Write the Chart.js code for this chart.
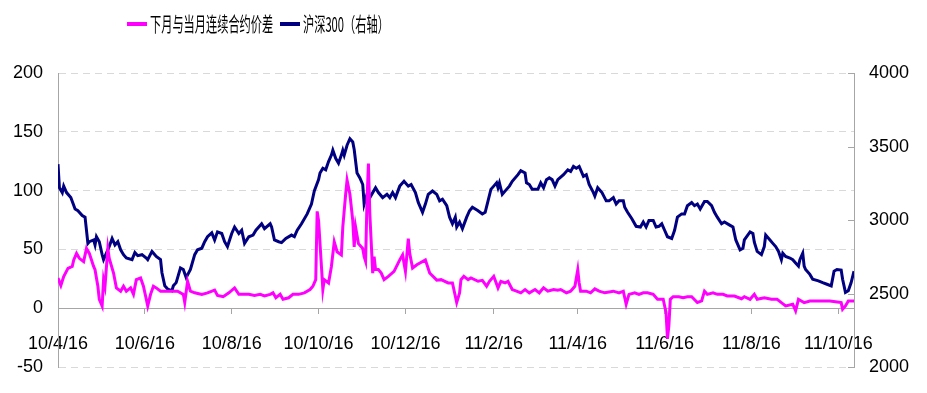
<!DOCTYPE html>
<html>
<head>
<meta charset="utf-8">
<script src="https://cdn.jsdelivr.net/npm/chart.js@4.4.1/dist/chart.umd.min.js"></script>
<style>
  html, body { margin: 0; padding: 0; background: #fff; }
  #wrap { position: relative; width: 927px; height: 393px; }
  .sw { position: absolute; height: 4px; width: 20px; top: 22px; }
  .lt { position: absolute; top: 10px; font: 20px "Noto Sans CJK SC", sans-serif; color: #000;
        white-space: nowrap; transform: scaleX(0.56); transform-origin: left center; line-height: 28px; }
</style>
</head>
<body>
<div id="wrap">
  <canvas id="chart"></canvas>
  <div class="sw" style="left:127px;background:#ff00ff"></div>
  <div class="lt" id="lab0" style="left:150px"></div>
  <div class="sw" style="left:280px;background:#000080"></div>
  <div class="lt" id="lab1" style="left:303px"></div>
</div>
<script>
// labels
const seriesNames = ['下月与当月连续合约价差', '沪深300（右轴）'];
// x ticks: days since 2010-04-16
const tickDays = [0, 61, 122, 183, 244, 306, 365, 426, 487, 548];
const tickLabels = ['10/4/16', '10/6/16', '10/8/16', '10/10/16', '10/12/16', '11/2/16', '11/4/16', '11/6/16', '11/8/16', '11/10/16'];

// 下月与当月连续合约价差 (left axis)
const spreadDays = [0,2,4,7,10,11,13,15,18,20,22,25,26,28,29,31,32,33,35,36,39,41,44,46,48,51,53,55,58,60,62,63,65,67,69,72,75,80,84,88,89,91,93,96,101,105,110,112,116,120,124,127,130,134,138,142,145,149,151,153,156,158,162,165,169,173,177,179,181,182,183,185,186,187,190,192,194,196,199,200,202,203,205,207,208,209,211,214,215,216,217,218,219,220,221,222,223,225,227,229,232,236,240,242,244,246,247,249,252,258,261,266,269,274,277,280,282,283,285,288,290,295,298,301,303,306,309,311,314,316,319,322,325,328,331,335,338,341,344,348,351,353,357,360,363,365,366,367,371,374,377,380,384,390,394,397,399,401,405,408,411,414,418,421,422,425,427,428,429,430,432,436,439,442,445,449,452,454,456,460,463,467,470,475,480,482,486,489,491,496,501,505,508,511,516,518,520,522,524,528,532,537,542,546,550,551,553,555,559];
const spreadValues = [25.8,19.4,27,34,35.6,41,46.7,42.5,39.7,50.9,46.7,35.6,32.8,18.8,7.7,2,24.4,18.8,50.9,42.5,30,17.4,14.6,18.8,14.6,17.4,11.9,24.4,25.8,18.8,7.7,2,11.9,18.8,17.4,14.6,14.6,14.6,14.6,11.9,5,23,14.6,13.2,11.9,13.2,15.5,11,9.9,13.2,17.4,11.9,11.9,11.9,11,11.9,10.5,11.9,13.2,9,11.9,7.7,9,11.9,11.9,13.2,16,18.8,24.4,82.4,74.6,35.6,16,24.4,21.6,35.6,56.5,48.1,45.4,69,96.9,109,96.9,74.6,52.3,69,55,50.9,43.9,40,91,123,80,55,30,44,33,33,30,24.4,27.2,31.4,41.2,45.4,31.4,59.2,46.7,34.2,37,41.2,30,24,24.4,21.6,21.6,4.9,13,24.4,27.2,24.4,25.8,23,23.8,18.8,23,27.2,17.4,23,21.6,23,16,14.6,13.2,16,13.2,16,13.2,17.4,14.6,16,15.5,16,13.2,14.6,18.8,32.8,21.6,14.6,14.6,13.2,16.6,14.6,13.2,14.6,13.2,14.6,3.5,11.9,13.2,11.9,13.2,13.2,11.9,7.7,7.7,7.7,-3.5,-25.8,-14.6,7.7,9.9,9.9,9,9.9,9.9,4.9,6.3,14.6,11.9,13.2,11.9,11.9,10.5,10.5,8.2,9.9,7.7,11.9,7.7,9,7.7,7.7,4.9,2.1,3.5,-2.1,7.7,6.3,4.9,6.3,6.3,6.3,6.3,5.7,4.9,-0.7,2.1,6.3,6.3];

// 沪深300 (right axis)
const hs300Days = [0,1,3,4,6,9,12,14,17,19,21,22,25,26,27,29,31,32,34,36,38,40,42,44,46,48,52,54,56,59,62,63,66,69,72,73,75,77,80,81,83,86,88,90,93,96,98,101,103,105,108,110,112,115,117,119,122,124,127,129,131,134,137,139,141,143,145,149,150,152,155,157,160,164,166,168,171,175,178,180,183,184,186,188,190,192,193,195,197,199,200,201,203,205,207,208,210,212,214,215,217,219,223,225,228,231,233,235,237,240,243,246,248,251,253,256,258,260,263,266,268,270,273,275,277,279,280,282,284,287,289,291,295,298,300,302,304,306,308,309,310,312,315,317,319,323,325,328,329,331,333,337,339,341,343,345,347,349,351,355,358,360,362,364,366,369,371,373,376,377,379,382,385,387,390,392,394,397,398,400,403,406,409,411,413,415,418,420,422,424,426,428,431,433,435,438,440,442,445,447,449,451,454,456,459,461,463,466,468,472,474,476,479,481,482,486,488,489,491,494,496,497,500,502,504,506,508,509,511,514,516,518,520,521,523,524,525,528,530,534,537,540,543,545,547,550,551,553,555,557,559];
const hs300Values = [3380,3220,3187,3231,3187,3153,3075,3064,3031,3020,2842,2853,2865,2831,2887,2853,2765,2731,2775,2820,2875,2831,2853,2798,2765,2742,2731,2780,2758,2765,2742,2731,2787,2753,2731,2642,2553,2531,2520,2553,2575,2675,2664,2609,2664,2765,2798,2809,2853,2887,2913,2865,2920,2909,2853,2820,2909,2953,2909,2931,2842,2887,2898,2931,2953,2975,2942,2975,2953,2865,2853,2847,2875,2898,2887,2931,2975,3042,3109,3198,3275,3320,3353,3342,3398,3442,3475,3420,3387,3442,3475,3442,3509,3553,3531,3480,3320,3287,3242,3109,3175,3153,3220,3187,3153,3175,3153,3187,3153,3231,3264,3231,3242,3187,3120,3053,3109,3175,3198,3175,3131,3142,3098,3020,2975,3020,2953,2987,2942,3020,3064,3087,3064,3042,3053,3131,3209,3231,3253,3220,3253,3175,3209,3231,3264,3309,3336,3320,3253,3242,3209,3209,3253,3220,3275,3287,3275,3231,3275,3309,3342,3331,3365,3353,3365,3298,3309,3242,3187,3164,3220,3187,3131,3131,3153,3109,3131,3131,3087,3053,3009,2958,2953,2987,2953,2998,2998,2953,2958,2975,2931,2887,2875,2931,3020,3042,3042,3098,3120,3098,3109,3075,3127,3127,3098,3053,3020,2975,2987,2964,2953,2865,2798,2809,2865,2920,2909,2850,2787,2765,2820,2898,2865,2842,2820,2787,2731,2775,2753,2742,2731,2709,2687,2731,2775,2687,2664,2631,2598,2587,2575,2564,2553,2653,2664,2660,2598,2509,2520,2575,2653];

document.getElementById('lab0').textContent = seriesNames[0];
document.getElementById('lab1').textContent = seriesNames[1];

const axisGrey = '#a6a6a6';
const tickFont = { family: '"Liberation Sans", Arial, sans-serif', size: 18 };

// small tick marks pointing into the plot on the right axis
const innerTicks = {
    id: 'innerTicks',
    afterDraw(chart) {
        const s = chart.scales.y1;
        const ctx = chart.ctx;
        ctx.save();
        ctx.strokeStyle = axisGrey;
        ctx.lineWidth = 1;
        s.ticks.forEach(function (t) {
            const y = Math.round(s.getPixelForValue(t.value)) + 0.5;
            ctx.beginPath();
            ctx.moveTo(s.left - 6, y);
            ctx.lineTo(s.left, y);
            ctx.stroke();
        });
        ctx.restore();
    }
};

new Chart(document.getElementById('chart'), {
    type: 'line',
    data: {
        datasets: [
            {
                label: seriesNames[0],
                data: spreadDays.map(function (d, i) { return { x: d, y: spreadValues[i] }; }),
                borderColor: '#ff00ff',
                backgroundColor: '#ff00ff',
                borderWidth: 3,
                pointRadius: 0,
                yAxisID: 'y'
            },
            {
                label: seriesNames[1],
                data: hs300Days.map(function (d, i) { return { x: d, y: hs300Values[i] }; }),
                borderColor: '#000080',
                backgroundColor: '#000080',
                borderWidth: 3,
                pointRadius: 0,
                yAxisID: 'y1'
            }
        ]
    },
    options: {
        responsive: true,
        maintainAspectRatio: false,
        animation: false,
        layout: { padding: { top: 73, bottom: 20, left: 0, right: 0 } },
        plugins: { legend: { display: false }, tooltip: { enabled: false } },
        scales: {
            x: {
                type: 'linear',
                position: { y: 0 },
                min: 0,
                max: 559,
                afterBuildTicks: function (scale) {
                    scale.ticks = tickDays.map(function (v) { return { value: v }; });
                },
                ticks: {
                    autoSkip: false,
                    maxRotation: 0,
                    padding: 20,
                    color: '#000',
                    font: tickFont,
                    callback: function (v, i) { return tickLabels[i]; }
                },
                grid: { drawOnChartArea: false, drawTicks: true, tickLength: 5, tickColor: axisGrey },
                border: { color: axisGrey }
            },
            y: {
                position: 'left',
                min: -50,
                max: 200,
                afterFit: function (s) { s.width = 58; },
                ticks: { stepSize: 50, padding: 15, color: '#000', font: tickFont },
                grid: { color: '#d9d9d9', drawTicks: false },
                border: { color: axisGrey, dash: [7, 5] }
            },
            y1: {
                position: 'right',
                min: 2000,
                max: 4000,
                afterFit: function (s) { s.width = 73; },
                ticks: {
                    stepSize: 500, padding: 15, color: '#000', font: tickFont,
                    callback: function (v) { return String(v); }
                },
                grid: { drawOnChartArea: false, drawTicks: false },
                border: { color: axisGrey }
            }
        }
    },
    plugins: [innerTicks]
});
</script>
</body>
</html>
